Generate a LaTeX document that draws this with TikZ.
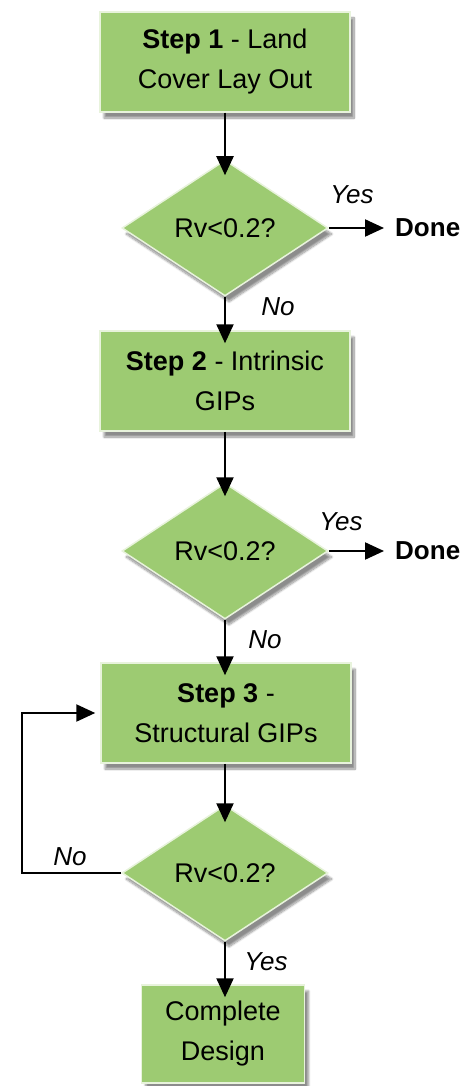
\documentclass[tikz,border=0pt]{standalone}
\usepackage{fontspec}
\setmainfont{Liberation Sans}
\usetikzlibrary{arrows.meta,shapes.geometric,shadows.blur}
\definecolor{boxgreen}{RGB}{157,203,114}
\definecolor{edgegreen}{RGB}{232,243,220}
\tikzset{
  shapebase/.style={fill=boxgreen, draw=edgegreen, line width=1.5pt,
    blur shadow={shadow xshift=4pt, shadow yshift=-6pt, shadow blur steps=10, shadow opacity=45},
    font=\fontsize{27}{40}\selectfont, align=center, inner sep=0pt},
  stepbox/.style={shapebase, rectangle, minimum width=250pt, minimum height=100pt},
  decision/.style={shapebase, diamond, minimum width=206pt, minimum height=136pt},
  lbl/.style={font=\fontsize{26}{30}\selectfont\itshape, inner sep=0pt},
  donetxt/.style={font=\fontsize{26}{30}\selectfont\bfseries, anchor=west, inner xsep=11pt, inner ysep=0pt},
  arr/.style={line width=2.2pt, -{Triangle[length=19pt,width=17pt]}},
}
\begin{document}
\begin{tikzpicture}[x=1pt,y=-1pt]
\useasboundingbox (0,0) rectangle (464,1086);
\node[stepbox] (b1) at (225,62) {\textbf{Step 1} - Land\\Cover Lay Out};
\node[decision] (d1) at (225,228) {Rv<0.2?};
\node[stepbox] (b2) at (225,381) {\textbf{Step 2} - Intrinsic\\GIPs};
\node[decision] (d2) at (225,551) {Rv<0.2?};
\node[stepbox] (b3) at (226,713) {\textbf{Step 3} -\\Structural GIPs};
\node[decision] (d3) at (225,873) {Rv<0.2?};
\node[stepbox, minimum width=163pt, minimum height=98pt] (b4) at (223,1034) {Complete\\Design};

\node[donetxt] (done1) at (384,228) {Done};
\node[donetxt] (done2) at (384,551) {Done};

\node[lbl] (yes1) at (352,195) {Yes};
\node[lbl] (no1) at (278,307) {No};
\node[lbl] (yes2) at (341,522) {Yes};
\node[lbl] (no2) at (265,640) {No};
\node[lbl] (no3) at (70,857) {No};
\node[lbl] (yes3) at (266,962) {Yes};

\coordinate (fbl) at (22,873);

\draw[arr] (b1.south -| d1.north) -- ([yshift=-16pt]d1.north);
\draw[arr] (d1.south) -- ([yshift=-13pt]b2.north -| d1.south);
\draw[arr] (b2.south -| d2.north) -- ([yshift=-14pt]d2.north);
\draw[arr] (d2.south) -- ([yshift=-13pt]b3.north -| d2.south);
\draw[arr] (b3.south -| d3.north) -- ([yshift=-18pt]d3.north);
\draw[arr] (d3.south) -- ([yshift=-13pt]b4.north -| d3.south);
\draw[arr] (d1.east) -- (done1.west);
\draw[arr] (d2.east) -- (done2.west);
\draw[arr] (d3.west) -- (d3.west -| fbl) |- ([xshift=-5pt]b3.west);
\end{tikzpicture}
\end{document}
